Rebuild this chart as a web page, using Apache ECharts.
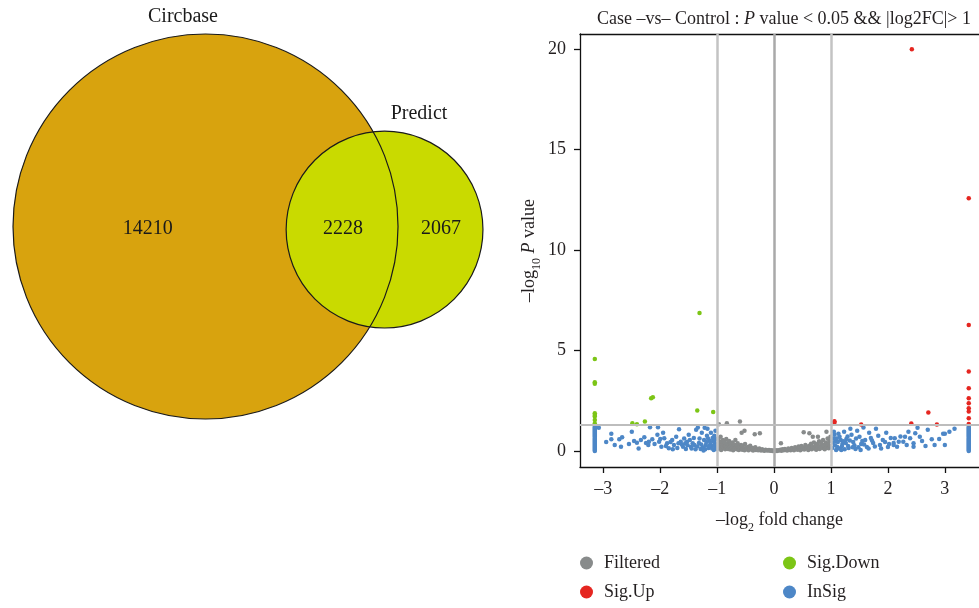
<!DOCTYPE html>
<html><head><meta charset="utf-8">
<script src="https://cdn.jsdelivr.net/npm/echarts@6/dist/echarts.min.js"></script>
<style>html,body{margin:0;padding:0;background:#fff}#c{width:979px;height:608px}</style>
</head><body><div id="c"></div>
<script>
// ---------- Venn data ----------
const vennSetNames = ['Circbase', 'Predict'];
const vennRegionCounts = [14210, 2228, 2067]; // Circbase only, both, Predict only

// ---------- Volcano data: [log2 fold change, -log10 P] ----------
const sigUp = [[2.42,20.0],[3.42,12.58],[3.42,6.27],[3.42,3.95],[3.42,3.12],[3.42,2.62],[3.42,2.37],[3.42,2.13],[3.42,1.96],[3.42,1.63],[3.42,1.34],
  [2.71,1.91],[2.41,1.36],[2.86,1.32],[1.06,1.48],[1.06,1.40],[1.53,1.32]];
const sigDown = [[-1.31,6.87],[-3.15,4.58],[-3.15,3.42],[-3.15,3.34],[-3.15,1.88],[-3.15,1.79],[-3.15,1.71],[-3.15,1.54],[-3.15,1.36],
  [-2.16,2.62],[-2.13,2.67],[-2.49,1.38],[-2.41,1.33],[-2.27,1.46],[-1.35,2.01],[-1.07,1.94]];
const filtered = [[-0.99,0.62],[-0.98,0.35],[-0.97,0.12],[-0.96,0.48],[-0.95,0.22],[-0.94,0.70],[-0.93,0.05],[-0.92,0.40],[-0.91,0.28],[-0.90,0.55],
  [-0.89,0.15],[-0.88,0.33],[-0.87,0.45],[-0.86,0.08],[-0.85,0.25],[-0.84,0.60],[-0.83,0.18],[-0.82,0.38],[-0.81,0.10],[-0.80,0.30],
  [-0.79,0.50],[-0.78,0.20],[-0.77,0.07],[-0.76,0.35],[-0.75,0.26],[-0.74,0.14],[-0.73,0.42],[-0.72,0.04],[-0.71,0.22],[-0.70,0.31],
  [-0.69,0.12],[-0.68,0.55],[-0.67,0.18],[-0.66,0.08],[-0.65,0.27],[-0.64,0.38],[-0.63,0.15],[-0.62,0.05],[-0.61,0.22],[-0.60,0.11],
  [-0.58,0.30],[-0.57,0.17],[-0.56,0.06],[-0.55,0.24],[-0.53,0.12],[-0.52,0.03],[-0.51,0.35],[-0.49,0.15],[-0.48,0.08],[-0.46,0.20],
  [-0.45,0.04],[-0.43,0.12],[-0.42,0.26],[-0.40,0.07],[-0.38,0.14],[-0.37,0.02],[-0.35,0.10],[-0.33,0.18],[-0.32,0.05],[-0.30,0.09],
  [-0.28,0.03],[-0.26,0.12],[-0.25,0.06],[-0.23,0.02],[-0.21,0.08],[-0.19,0.04],[-0.17,0.01],[-0.15,0.06],[-0.13,0.03],[-0.11,0.02],
  [-0.09,0.05],[-0.07,0.01],[-0.05,0.03],[-0.03,0.00],[-0.01,0.02],[0.01,0.01],[0.03,0.03],[0.05,0.00],[0.07,0.04],[0.09,0.02],
  [0.11,0.06],[0.12,0.38],[0.13,0.01],[0.15,0.08],[0.17,0.03],[0.19,0.10],[0.21,0.05],[0.23,0.02],[0.25,0.12],[0.27,0.07],[0.29,0.04],
  [0.31,0.15],[0.33,0.09],[0.35,0.03],[0.37,0.18],[0.39,0.11],[0.41,0.06],[0.43,0.22],[0.44,0.14],[0.46,0.04],[0.48,0.25],
  [0.50,0.10],[0.51,0.17],[0.53,0.07],[0.55,0.30],[0.57,0.13],[0.58,0.21],[0.60,0.05],[0.62,0.26],[0.63,0.14],[0.65,0.36],
  [0.66,0.09],[0.68,0.20],[0.70,0.42],[0.71,0.12],[0.73,0.28],[0.74,0.06],[0.76,0.34],[0.77,0.18],[0.79,0.48],[0.80,0.10],
  [0.82,0.25],[0.83,0.38],[0.85,0.15],[0.86,0.55],[0.88,0.30],[0.89,0.08],[0.91,0.42],[0.92,0.20],[0.94,0.62],[0.95,0.33],
  [0.96,0.13],[0.97,0.50],[0.98,0.24],[0.99,0.70],
  [-0.97,1.33],[-0.83,1.38],[-0.60,1.46],[-0.52,1.01],[-0.57,0.91],[-0.34,0.83],[-0.25,0.88],[0.52,0.93],[0.62,0.88],[0.68,0.71],[0.77,0.70],[0.92,0.96]];
const inSig = [
  [-3.15,0.00],[-3.15,0.05],[-3.15,0.10],[-3.15,0.15],[-3.15,0.20],[-3.15,0.25],[-3.15,0.30],[-3.15,0.35],[-3.15,0.40],[-3.15,0.45],
  [-3.15,0.50],[-3.15,0.55],[-3.15,0.60],[-3.15,0.65],[-3.15,0.70],[-3.15,0.75],[-3.15,0.80],[-3.15,0.85],[-3.15,0.90],[-3.15,0.95],
  [-3.15,1.00],[-3.15,1.05],[-3.15,1.10],[-3.15,1.15],[-3.15,1.21],
  [-3.08,1.16],[-2.86,0.85],[-2.86,0.58],[-2.72,0.58],[-2.67,0.68],[-2.69,0.21],[-2.50,0.96],[-2.46,0.50],[-2.41,0.41],[-2.34,0.55],
  [-2.28,0.68],[-2.18,1.18],[-2.04,1.18],[-2.20,0.46],[-2.21,0.30],[-2.14,0.58],[-2.10,0.35],[-2.05,0.80],[-2.02,0.46],[-1.98,0.21],
  [-1.95,0.91],[-1.93,0.63],[-1.88,0.38],[-1.85,0.13],[-1.79,0.55],[-1.76,0.30],[-1.72,0.71],[-1.67,1.08],[-1.64,0.46],[-1.60,0.21],
  [-1.56,0.38],[-1.53,0.46],[-1.50,0.80],[-1.46,0.21],[-1.41,0.65],[-1.37,1.05],[-1.34,1.17],[-1.32,0.40],[-1.29,0.10],[-1.27,0.90],
  [-1.23,0.55],[-1.22,1.16],[-1.20,0.30],[-1.18,0.75],[-1.17,1.10],[-1.15,0.15],[-1.13,0.50],[-1.11,0.90],[-1.10,0.25],[-1.08,0.65],
  [-1.06,0.05],[-1.04,0.40],[-1.03,1.00],[-1.02,0.20],[-1.45,0.12],[-1.40,0.30],[-1.38,0.08],[-1.25,0.18],[-1.21,0.08],[-1.12,0.35],
  [-1.09,0.12],[-1.05,0.28],[-1.01,0.10],[-1.55,0.10],[-1.62,0.32],[-1.70,0.15],[-1.82,0.45],[-1.90,0.25],[-2.00,0.60],[-2.25,0.40],
  [-1.58,0.62],[-1.48,0.55],[-1.43,0.38],[-1.35,0.22],[-1.31,0.62],[-1.28,0.32],[-1.24,0.02],[-1.19,0.45],[-1.16,0.62],[-1.14,0.25],
  [-1.07,0.48],[-1.05,0.75],[-1.03,0.58],[-1.78,0.08],[-1.68,0.38],[-1.52,0.28],[-2.38,0.12],[-2.55,0.35],[-2.95,0.45],[-2.80,0.30],
  [1.06,0.80],[1.08,0.50],[1.11,0.20],[1.15,0.70],[1.20,0.35],[1.23,0.95],[1.27,0.60],[1.30,0.25],[1.34,1.10],[1.36,0.80],
  [1.39,0.45],[1.43,0.10],[1.46,1.00],[1.50,0.70],[1.53,0.35],[1.57,1.17],[1.60,0.55],[1.63,0.20],[1.67,0.90],[1.70,0.65],
  [1.74,0.40],[1.79,1.10],[1.83,0.75],[1.86,0.30],[1.91,0.55],[1.97,0.90],[2.00,0.20],[2.05,0.65],[2.10,0.40],[2.12,0.63],
  [2.19,0.46],[2.10,0.30],[2.16,0.21],[2.36,0.96],[2.30,0.71],[2.39,0.63],[2.27,0.46],[2.33,0.30],[2.45,0.38],[2.52,1.16],
  [2.48,0.88],[2.45,0.21],[2.60,0.50],[2.70,1.05],[2.77,0.58],[2.82,0.30],[3.00,0.30],[2.97,0.85],[3.00,0.85],[3.08,0.96],[3.17,1.10],
  [1.02,0.15],[1.03,0.42],[1.04,0.62],[1.07,0.28],[1.09,0.05],[1.12,0.45],[1.14,0.12],[1.17,0.55],[1.19,0.22],[1.24,0.08],
  [1.26,0.40],[1.31,0.15],[1.41,0.28],[1.48,0.18],[1.55,0.50],[1.66,0.12],[1.77,0.22],[1.95,0.45],
  [1.05,0.95],[1.10,0.62],[1.13,0.85],[1.18,0.05],[1.22,0.48],[1.29,0.72],[1.33,0.52],[1.38,0.18],[1.44,0.62],[1.52,0.05],
  [1.58,0.32],[1.72,0.52],[1.88,0.12],[2.02,0.35],[2.22,0.72],[2.56,0.70],[2.66,0.25],[2.90,0.60],
  [3.42,0.00],[3.42,0.05],[3.42,0.10],[3.42,0.15],[3.42,0.20],[3.42,0.25],[3.42,0.30],[3.42,0.35],[3.42,0.40],[3.42,0.45],
  [3.42,0.50],[3.42,0.55],[3.42,0.60],[3.42,0.65],[3.42,0.70],[3.42,0.75],[3.42,0.80],[3.42,0.85],[3.42,0.90],[3.42,0.95],
  [3.42,1.00],[3.42,1.05],[3.42,1.10],[3.42,1.15],[3.42,1.21]];
const xTickValues = [-3, -2, -1, 0, 1, 2, 3];
const yTickValues = [0, 5, 10, 15, 20];
const fcThresholds = [-1, 0, 1];
const pThreshold = 1.301;

// ---------- layout / style ----------
const FONT = '"Liberation Serif", "DejaVu Serif", serif';
const TXT = '#231f20';
const vennTotals = [vennRegionCounts[0] + vennRegionCounts[1], vennRegionCounts[1] + vennRegionCounts[2]];
const vennCenters = [[0, 0], [0.93, -0.016]];
const vennFills = ['#d8a30e', '#c9da00'];
const vennNamePos = [[-0.117, 1.088], [1.109, 0.584]];
const vennCountPos = [[-0.30, -0.013], [0.714, -0.013], [1.223, -0.013]];
const rUnit = 1 / Math.sqrt(vennTotals[0]);

const circleData = vennSetNames.map((n, i) => [vennCenters[i][0], vennCenters[i][1], Math.sqrt(vennTotals[i]) * rUnit, i]);
const textData = vennSetNames.map((n, i) => [vennNamePos[i][0], vennNamePos[i][1], n])
  .concat(vennRegionCounts.map((c, i) => [vennCountPos[i][0], vennCountPos[i][1], String(c)]));

const chart = echarts.init(document.getElementById('c'), null, { renderer: 'canvas' });
const dash = v => String(v).replace('-', '\u2013');
const legendText = { fontFamily: FONT, fontSize: 18, color: TXT, lineHeight: 16, padding: [0, 0, 0, 6] };

chart.setOption({
  animation: false,
  backgroundColor: '#fff',
  textStyle: { fontFamily: FONT },
  title: {
    left: 779, top: 5, textAlign: 'center',
    text: '{n|Case \u2013vs\u2013 Control : }{i|P}{n| value < 0.05 && |log2FC|> 1}',
    textStyle: { fontWeight: 'normal', rich: {
      n: { fontFamily: FONT, fontSize: 18, fontWeight: 'normal', color: TXT },
      i: { fontFamily: FONT, fontSize: 18, fontWeight: 'normal', fontStyle: 'italic', color: TXT }
    } }
  },
  legend: [
    { data: ['Filtered', 'Sig.Up'], orient: 'vertical', left: 580, top: 554, icon: 'circle', itemWidth: 13, itemHeight: 13, itemGap: 11,
      padding: 0, textStyle: legendText },
    { data: ['Sig.Down', 'InSig'], orient: 'vertical', left: 783, top: 554, icon: 'circle', itemWidth: 13, itemHeight: 13, itemGap: 11,
      padding: 0, textStyle: legendText }
  ],
  grid: [
    { left: 13, top: 34, width: 468, height: 385 },
    { left: 580, top: 34, right: -4, height: 433 }
  ],
  xAxis: [
    { gridIndex: 0, type: 'value', min: -1, max: 1.431, show: false },
    { gridIndex: 1, type: 'value', min: -3.41, max: 3.6,
      axisLine: { show: true, onZero: false, lineStyle: { color: '#111', width: 1.3 } },
      axisTick: { show: true, customValues: xTickValues, length: 6, inside: false, lineStyle: { color: '#111', width: 1.3 } },
      axisLabel: { customValues: xTickValues, formatter: dash, fontFamily: FONT, fontSize: 18, color: TXT, margin: 13 },
      splitLine: { show: false },
      name: '{n|\u2013log}{s|2}{n| fold change}', nameLocation: 'middle', nameGap: 40,
      nameTextStyle: { rich: {
        n: { fontFamily: FONT, fontSize: 18, color: TXT, lineHeight: 22, verticalAlign: 'bottom' },
        s: { fontFamily: FONT, fontSize: 12, color: TXT, lineHeight: 12, verticalAlign: 'bottom', padding: [0, 0, -5, 0] }
      } } },
    { gridIndex: 1, type: 'value', min: -3.41, max: 3.6, position: 'top',
      axisLine: { show: true, onZero: false, lineStyle: { color: '#111', width: 1.3 } },
      axisTick: { show: false }, axisLabel: { show: false }, splitLine: { show: false } }
  ],
  yAxis: [
    { gridIndex: 0, type: 'value', min: -1, max: 1, show: false },
    { gridIndex: 1, type: 'value', min: -0.8, max: 20.76,
      axisLine: { show: true, onZero: false, lineStyle: { color: '#111', width: 1.3 } },
      axisTick: { show: true, customValues: yTickValues, length: 6, inside: false, lineStyle: { color: '#111', width: 1.3 } },
      axisLabel: { customValues: yTickValues, fontFamily: FONT, fontSize: 18, color: TXT, margin: 14 },
      splitLine: { show: false },
      name: '{n|\u2013log}{s|10}{i| P}{n| value}', nameLocation: 'middle', nameGap: 42, nameRotate: 90,
      nameTextStyle: { rich: {
        n: { fontFamily: FONT, fontSize: 18, color: TXT, lineHeight: 22, verticalAlign: 'bottom' },
        i: { fontFamily: FONT, fontSize: 18, color: TXT, fontStyle: 'italic', lineHeight: 22, verticalAlign: 'bottom' },
        s: { fontFamily: FONT, fontSize: 12, color: TXT, lineHeight: 12, verticalAlign: 'bottom', padding: [0, 0, -5, 0] }
      } } }
  ],
  series: [
    { type: 'custom', name: 'venn', xAxisIndex: 0, yAxisIndex: 0, data: circleData, silent: true,
      renderItem: function (params, api) {
        const c = api.coord([api.value(0), api.value(1)]);
        const r = api.size([api.value(2), 0])[0];
        const i = api.value(3);
        return { type: 'group', children: [
          { type: 'circle', shape: { cx: c[0], cy: c[1], r: r }, style: { fill: vennFills[i], stroke: null }, z2: 1 + i },
          { type: 'circle', shape: { cx: c[0], cy: c[1], r: r }, style: { fill: null, stroke: '#1a1a1a', lineWidth: 1.2 }, z2: 10 }
        ] };
      } },
    { type: 'custom', name: 'vennText', xAxisIndex: 0, yAxisIndex: 0, data: textData, silent: true, z: 5,
      renderItem: function (params, api) {
        const c = api.coord([api.value(0), api.value(1)]);
        return { type: 'text', x: c[0], y: c[1], style: { text: textData[params.dataIndex][2], fill: '#1a1a1a',
          font: '20px ' + FONT, textAlign: 'center', textVerticalAlign: 'middle' } };
      } },
    { type: 'scatter', name: 'thresholds', xAxisIndex: 1, yAxisIndex: 1, data: [], z: 1, silent: true,
      markLine: { silent: true, symbol: 'none', label: { show: false },
        data: fcThresholds.map(v => ({ xAxis: v, lineStyle: { color: v === 0 ? '#a9a9a9' : '#c3c3c3', width: 2.5, type: 'solid' } }))
          .concat([{ yAxis: pThreshold, lineStyle: { color: '#bdbdbd', width: 2, type: 'solid' } }]) } },
    { type: 'scatter', name: 'Filtered', xAxisIndex: 1, yAxisIndex: 1, data: filtered, symbolSize: 4.5, z: 2, itemStyle: { color: '#888b8b', opacity: 1 } },
    { type: 'scatter', name: 'InSig', xAxisIndex: 1, yAxisIndex: 1, data: inSig, symbolSize: 4.5, z: 3, itemStyle: { color: '#4d87c7', opacity: 1 } },
    { type: 'scatter', name: 'Sig.Up', xAxisIndex: 1, yAxisIndex: 1, data: sigUp, symbolSize: 4.5, z: 4, itemStyle: { color: '#e52620', opacity: 1 } },
    { type: 'scatter', name: 'Sig.Down', xAxisIndex: 1, yAxisIndex: 1, data: sigDown, symbolSize: 4.5, z: 4, itemStyle: { color: '#7cc516', opacity: 1 } }
  ]
});
</script>
</body></html>
